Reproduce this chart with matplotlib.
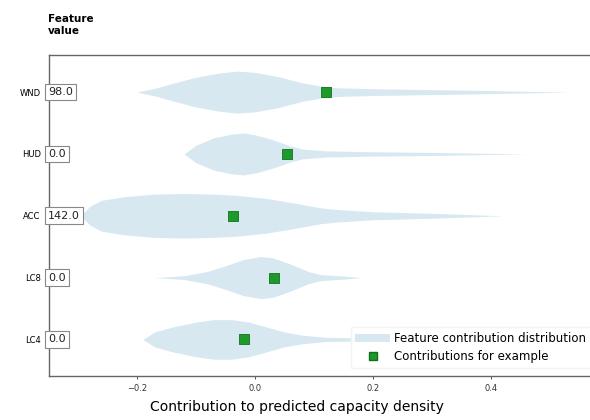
import numpy as np
import matplotlib.pyplot as plt
from matplotlib.patches import Patch
from matplotlib.lines import Line2D

features = ['WND', 'HUD', 'ACC', 'LC8', 'LC4']
feature_values = ['98.0', '0.0', '142.0', '0.0', '0.0']
example_contrib = [0.120, 0.054, -0.037, 0.032, -0.019]

# violin outlines: contribution grid and half-widths (in row units)
wnd_x = [-0.20, -0.17, -0.14, -0.10, -0.06, -0.03, 0.00, 0.04, 0.08, 0.11, 0.14, 0.20, 0.30, 0.40, 0.53]
wnd_w = [0.00, 0.06, 0.14, 0.24, 0.31, 0.34, 0.32, 0.25, 0.15, 0.10, 0.07, 0.055, 0.04, 0.025, 0.00]
hud_x = [-0.12, -0.10, -0.07, -0.04, -0.02, 0.00, 0.03, 0.06, 0.08, 0.12, 0.20, 0.30, 0.46]
hud_w = [0.00, 0.14, 0.26, 0.32, 0.34, 0.31, 0.23, 0.13, 0.08, 0.05, 0.035, 0.025, 0.00]
acc_x = [-0.295, -0.28, -0.26, -0.22, -0.17, -0.12, -0.07, -0.03, 0.02, 0.07, 0.11, 0.14, 0.20, 0.30, 0.42]
acc_w = [0.00, 0.15, 0.25, 0.31, 0.35, 0.36, 0.35, 0.33, 0.28, 0.20, 0.13, 0.10, 0.065, 0.04, 0.00]
lc8_x = [-0.17, -0.12, -0.08, -0.05, -0.02, 0.01, 0.03, 0.06, 0.09, 0.11, 0.15, 0.18]
lc8_w = [0.00, 0.03, 0.10, 0.19, 0.29, 0.34, 0.32, 0.22, 0.10, 0.05, 0.025, 0.00]
lc4_x = [-0.19, -0.17, -0.14, -0.10, -0.07, -0.04, -0.01, 0.02, 0.05, 0.08, 0.12, 0.17, 0.20]
lc4_w = [0.00, 0.12, 0.20, 0.28, 0.32, 0.32, 0.28, 0.20, 0.12, 0.07, 0.035, 0.025, 0.00]
profiles = [(wnd_x, wnd_w), (hud_x, hud_w), (acc_x, acc_w), (lc8_x, lc8_w), (lc4_x, lc4_w)]

violin_color = '#d7e8f1'
marker_color = '#1e9a2c'

fig = plt.figure(figsize=(5.9, 4.2), dpi=100)
ax = fig.add_axes([0.083, 0.105, 0.934, 0.764])

for i, (px, pw) in enumerate(profiles):
    px = np.array(px)
    pw = np.array(pw)
    ax.fill_between(px, i - pw, i + pw, color=violin_color, lw=0)

ax.scatter(example_contrib, range(len(features)), marker='s', s=48,
           color=marker_color, edgecolors='#11701c', linewidths=0.6, zorder=3)

for i, v in enumerate(feature_values):
    ax.annotate(v, xy=(-0.002, i), xycoords=('axes fraction', 'data'),
                ha='left', va='center', fontsize=8, color='#222222',
                bbox=dict(boxstyle='square,pad=0.3', fc='white', ec='#888888', lw=0.8),
                zorder=4)

ax.set_xlim(-0.349, 0.585)
ax.set_ylim(4.59, -0.6)
ax.set_yticks(range(len(features)))
ax.set_yticklabels(features, fontsize=6)
ax.tick_params(axis='y', length=0, pad=6)
ax.set_xticks([-0.2, 0.0, 0.2, 0.4])
ax.set_xticklabels(['\u22120.2', '0.0', '0.2', '0.4'])
ax.tick_params(axis='x', labelsize=6, length=2.5, width=0.6, colors='#333333')

for s in ax.spines.values():
    s.set_color('#666666')
    s.set_linewidth(1.0)

ax.set_xlabel('Contribution to predicted capacity density', fontsize=10)
ax.xaxis.set_label_coords(0.45, -0.075)

fig.text(0.081, 0.915, 'Feature\nvalue', fontsize=7.5, fontweight='bold',
         ha='left', va='bottom', linespacing=1.2)

handles = [Patch(facecolor=violin_color, edgecolor='none'),
           Line2D([], [], marker='s', ls='none', color=marker_color,
                  markeredgecolor='#11701c', markersize=6)]
ax.legend(handles, ['Feature contribution distribution', 'Contributions for example'],
          loc='lower right', bbox_to_anchor=(1.012, 0.11), bbox_transform=fig.transFigure,
          fontsize=8.5, frameon=True, framealpha=0.85, edgecolor='#f2f2f2',
          fancybox=False, handlelength=2.9, handletextpad=0.4, borderpad=0.4,
          labelspacing=0.45)

fig.savefig('out.png', dpi=100)
